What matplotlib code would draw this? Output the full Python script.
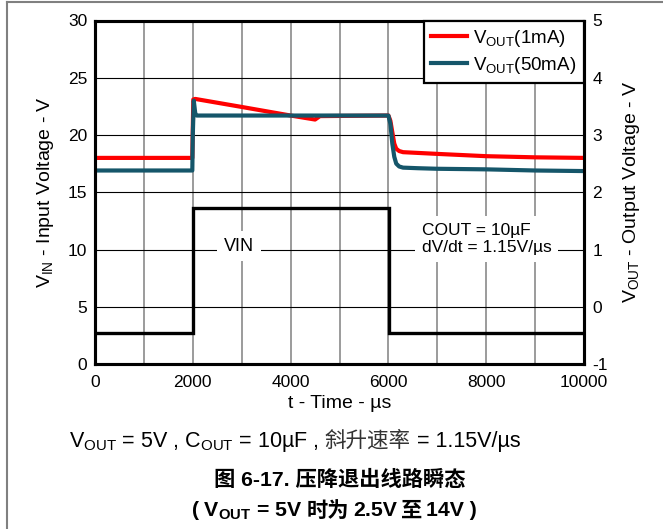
import matplotlib.pyplot as plt
import matplotlib.lines as mlines

plt.rcParams['font.family'] = ['Liberation Sans', 'Noto Sans CJK SC']
plt.rcParams['mathtext.fontset'] = 'custom'
plt.rcParams['mathtext.rm'] = 'Liberation Sans'
plt.rcParams['mathtext.bf'] = 'Liberation Sans:bold'
plt.rcParams['mathtext.it'] = 'Liberation Sans:italic'
plt.rcParams['axes.unicode_minus'] = False

# input step (left axis, V)
vin_t = [0, 2000, 2000, 6020, 6020, 10000]
vin_v = [2.7, 2.7, 13.6, 13.6, 2.7, 2.7]

# output, 1 mA load (right axis, V)
vout1_t = [0, 1990, 2010, 2050, 3000, 4000, 4500, 4600, 6000, 6040, 6080,
           6120, 6160, 6220, 6300, 7000, 8000, 9000, 10000]
vout1_v = [2.60, 2.60, 3.62, 3.63, 3.49, 3.34, 3.27, 3.33, 3.34, 3.25, 3.05,
           2.85, 2.76, 2.72, 2.70, 2.67, 2.63, 2.61, 2.60]

# output, 50 mA load (right axis, V)
vout50_t = [0, 1990, 2000, 2020, 2050, 2080, 2150, 6000, 6040, 6080, 6120,
            6160, 6220, 6300, 6600, 7000, 8000, 9000, 10000]
vout50_v = [2.38, 2.38, 3.00, 3.60, 3.38, 3.34, 3.34, 3.34, 3.20, 2.85, 2.62,
            2.50, 2.45, 2.43, 2.42, 2.41, 2.40, 2.38, 2.37]

x_ticks = [0, 2000, 4000, 6000, 8000, 10000]
x_grid = [1000, 3000, 5000, 7000, 9000]
left_ticks = [0, 5, 10, 15, 20, 25, 30]
right_ticks = [-1, 0, 1, 2, 3, 4, 5]

W, H = 663, 529
fig = plt.figure(figsize=(W / 100, H / 100), dpi=100)
ax = fig.add_axes([95 / W, 1 - 364 / H, 489 / W, 343.5 / H])
ax2 = ax.twinx()

ax.plot(vin_t, vin_v, color='black', lw=2.4, solid_joinstyle='miter')
ax2.plot(vout1_t, vout1_v, color='#ff0000', lw=3, label=r'V$_{\rm OUT}$(1mA)')
ax2.plot(vout50_t, vout50_v, color='#15566a', lw=3, label=r'V$_{\rm OUT}$(50mA)')

ax.set_xlim(0, 10000)
ax.set_ylim(0, 30)
ax2.set_ylim(-1, 5)
ax.set_xticks(x_ticks)
ax.set_xticks(x_grid, minor=True)
ax.set_yticks(left_ticks)
ax2.set_yticks(right_ticks)

ax.set_axisbelow(True)
ax.grid(True, which='both', axis='x', color='#808080', lw=1.1)
ax.grid(True, which='major', axis='y', color='black', lw=0.8)

for a in (ax, ax2):
    for s in a.spines.values():
        s.set_linewidth(2.2)
    a.tick_params(which='both', length=0, labelsize=12.5)
ax.tick_params(axis='x', pad=8)
ax.tick_params(axis='y', pad=5.5)
ax2.tick_params(axis='y', pad=6)

ax.set_xlabel('t - Time - µs', fontsize=14)
ax.set_ylabel(r'V$_{\rm IN}$ - Input Voltage - V', fontsize=14)
ax2.set_ylabel(r'V$_{\rm OUT}$ - Output Voltage - V', fontsize=14, rotation=90)
ax.xaxis.label.set_va('center')
ax.yaxis.label.set_va('center')
ax2.yaxis.label.set_va('center')
ax.xaxis.set_label_coords(0.5, -0.116)
ax.yaxis.set_label_coords(-0.102, 0.5)
ax2.yaxis.set_label_coords(1.098, 0.5)

box = dict(facecolor='white', edgecolor='none', pad=5)
ax.text(2950, 10.3, 'VIN', fontsize=13, ha='center', va='center', bbox=box)
ax.text(6680, 10.9, 'COUT = 10µF\ndV/dt = 1.15V/µs', fontsize=12.5,
        ha='left', va='center', linespacing=1.15, bbox=box)

leg = ax2.legend(loc='upper right', borderaxespad=0, fancybox=False,
                 edgecolor='black', framealpha=1, fontsize=13.5,
                 handlelength=1.9, handletextpad=0.35, labelspacing=0.3,
                 borderpad=0.4)
leg.get_frame().set_linewidth(1.6)

# page frame lines
fig.add_artist(mlines.Line2D([7 / W, 1], [1 - 2 / H] * 2, color='#808080', lw=1.5))
fig.add_artist(mlines.Line2D([7 / W] * 2, [0, 1 - 2 / H], color='#808080', lw=1.5))

latin = ['Liberation Sans']
cjk = ['Noto Sans CJK SC']


def put_runs(x, y, runs, ha='left'):
    r = fig.canvas.get_renderer()
    placed = []
    for s, gap, kw in runs:
        t = fig.text(0, y, s, va='baseline', **kw)
        placed.append((t, gap, t.get_window_extent(renderer=r).width))
    total = sum(g + w for _, g, w in placed)
    pos = x * W - (total / 2 if ha == 'center' else 0)
    for t, g, w in placed:
        pos += g
        t.set_x(pos / W)
        pos += w


sp = 6
reg = dict(fontsize=15.5, family=latin)
put_runs(69 / W, 1 - 447 / H, [
    (r'V$_{\rm OUT}$ = 5V , C$_{\rm OUT}$ = 10µF ,', 0, reg),
    ('斜升速率', sp, dict(fontsize=15.5, family=cjk, color='#333333')),
    ('= 1.15V/µs', sp, reg),
])

fig.text(340 / W, 1 - 486.5 / H, '图 6-17. 压降退出线路瞬态', fontsize=15.3,
         weight='bold', ha='center', va='baseline',
         family=['Liberation Sans', 'Noto Sans CJK SC'])

bold = dict(fontsize=15.3, weight='bold', family=latin)
boldc = dict(fontsize=15.3, weight='bold', family=cjk)
put_runs(334 / W, 1 - 516.5 / H, [
    (r'( V$_{\mathbf{OUT}}$ = 5V', 0, bold),
    ('时为', 4, boldc),
    ('2.5V', 4, bold),
    ('至', 4, boldc),
    ('14V )', 4, bold),
], ha='center')

fig.savefig('out.png', dpi=100)
